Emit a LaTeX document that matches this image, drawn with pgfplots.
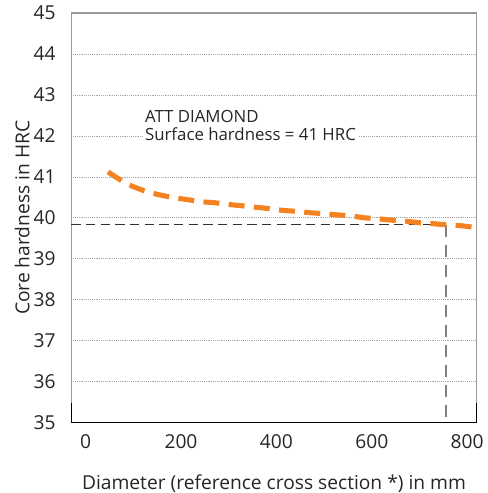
\documentclass[border=0pt]{standalone}
\usepackage{fontspec}
\setmainfont{Open Sans}
\usepackage{pgfplots}
\pgfplotsset{compat=1.18}
\definecolor{curve}{HTML}{F58220}
\definecolor{txt}{HTML}{262626}
\definecolor{frame}{HTML}{9A9A9A}

\begin{document}
\begin{tikzpicture}
\begin{axis}[
  name=main, anchor=south west, at={(0,0)},
  scale only axis,
  width=304.05pt, height=307.3pt,
  xmin=-30, xmax=820, ymin=35, ymax=45,
  xtick={0,200,...,800}, ytick={35,36,...,45},
  major tick length=0pt,
  font=\fontsize{14.4}{16}\selectfont\color{txt},
  /pgf/number format/assume math mode=true,
  yticklabel style={inner sep=0pt, xshift=-11.5pt},
  xticklabel style={inner sep=0pt, yshift=-8.5pt},
  ymajorgrids, grid style={densely dotted, gray!70, line width=0.5pt},
  axis line style={frame, line width=0.9pt},
  xlabel={Diameter (reference cross section *) in mm},
  ylabel={Core hardness in HRC},
  xlabel style={at={(axis description cs:0.5,-0.149)}, anchor=center},
  ylabel style={at={(axis description cs:-0.1209,0.5)}, anchor=center},
  clip=false,
]
% reference lines
\addplot[black!80, line width=0.6pt, dash pattern=on 7pt off 4pt] coordinates {(-30,39.83) (755,39.83)};
\addplot[gray, line width=1.3pt, dash pattern=on 9pt off 6pt] coordinates {(755,39.83) (755,35)};
% core hardness curve
\addplot[curve, line width=3.8pt, dash pattern=on 12pt off 7pt] coordinates {
  (47,41.12) (80,40.87) (100,40.76) (130,40.63) (155,40.56) (185,40.49)
  (210,40.45) (245,40.39) (270,40.37) (305,40.32) (340,40.28) (380,40.23)
  (415,40.18) (440,40.16) (475,40.12) (500,40.10) (530,40.07) (555,40.05)
  (585,40.00) (610,39.98) (645,39.94) (670,39.92) (700,39.88) (725,39.86)
  (755,39.83) (785,39.81) (815,39.77)
};
\node[anchor=west, align=left, fill=white, inner sep=1.5pt, font=\fontsize{12.6}{13.2}\selectfont\color{txt}]
  at (axis cs:120,42.26) {ATT DIAMOND\\Surface hardness = 41 HRC};
\draw[black, line width=0.9pt] (rel axis cs:0,0.049) -- (rel axis cs:0,0) -- (rel axis cs:1,0) -- (rel axis cs:1,0.049);
\end{axis}
\pgfresetboundingbox
\path[use as bounding box] ([shift={(-53.475pt,-52.725pt)}]main.south west) rectangle ++(365.25pt,369.75pt);
\end{tikzpicture}
\end{document}
